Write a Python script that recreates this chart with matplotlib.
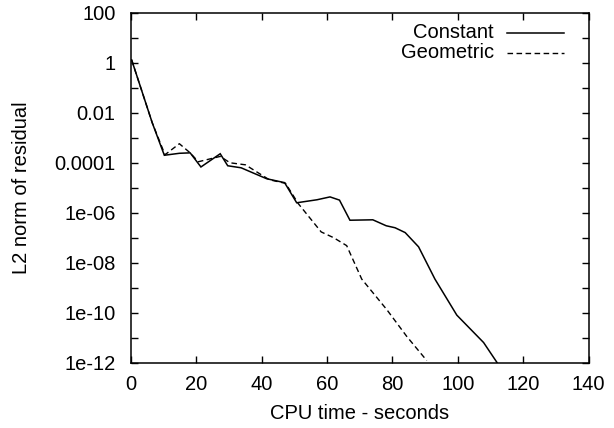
import matplotlib
matplotlib.use("Agg")
import matplotlib.pyplot as plt
from matplotlib.lines import Line2D

plt.rcParams['font.family'] = ['Liberation Sans', 'DejaVu Sans']

series_names = ["Constant", "Geometric"]

const_t = [0.2, 6.5, 10.2, 14.8, 18.1, 21.4, 27.3, 29.6, 33.7, 37.4, 41.5, 47.0,
           50.7, 56.9, 60.9, 63.8, 67.0, 74.0, 78.1, 80.8, 83.9, 88.0, 93.0,
           99.7, 107.9, 112.0]
const_r = [1.32, 4.0e-3, 2.0e-4, 2.4e-4, 2.5e-4, 6.8e-5, 2.3e-4, 7.6e-5, 6.3e-5,
           3.9e-5, 2.3e-5, 1.6e-5, 2.5e-6, 3.3e-6, 4.3e-6, 3.2e-6, 5.0e-7, 5.2e-7,
           3.0e-7, 2.5e-7, 1.6e-7, 4.3e-8, 2.2e-9, 7.9e-11, 6.3e-12, 1.0e-12]

geom_t = [0.2, 6.5, 10.4, 14.8, 18.1, 20.6, 27.3, 30.3, 35.0, 42.3, 47.3, 51.2,
          58.2, 62.0, 66.0, 70.6, 78.3, 84.4, 90.5]
geom_r = [1.32, 4.0e-3, 2.1e-4, 5.8e-4, 2.5e-4, 1.1e-4, 1.8e-4, 1.0e-4, 8.3e-5,
          2.1e-5, 1.5e-5, 2.3e-6, 1.7e-7, 1.0e-7, 4.8e-8, 2.2e-9, 1.3e-10,
          1.1e-11, 1.2e-12]

x_ticks = [0, 20, 40, 60, 80, 100, 120, 140]
y_ticks = [1e2, 1e1, 1e0, 1e-1, 1e-2, 1e-3, 1e-4, 1e-5, 1e-6, 1e-7, 1e-8, 1e-9,
           1e-10, 1e-11, 1e-12]
y_tick_labels = ["100", "", "1", "", "0.01", "", "0.0001", "", "1e-06", "",
                 "1e-08", "", "1e-10", "", "1e-12"]

fig = plt.figure(figsize=(6.14, 4.28), dpi=100)
ax = fig.add_axes([131/614, 1 - 362.5/428, (588.5-131)/614, (362.5-13)/428])

ax.plot(const_t, const_r, color='black', lw=1.1, solid_joinstyle='miter')
ax.plot(geom_t, geom_r, color='black', lw=1.0, linestyle=(0, (4, 2.5)))

ax.set_yscale('log')
ax.set_xlim(0, 140)
ax.set_ylim(1e-12, 1e2)
ax.set_xticks(x_ticks)
ax.set_xticklabels([str(v) for v in x_ticks])
ax.set_yticks(y_ticks)
ax.set_yticklabels(y_tick_labels)
ax.minorticks_off()
ax.tick_params(direction='in', length=5, width=1.0, top=True, right=True,
               labelsize=14.5)
ax.tick_params(axis='x', pad=9)
ax.tick_params(axis='y', pad=11)
for s in ax.spines.values():
    s.set_linewidth(1.1)

ax.set_xlabel("CPU time - seconds", fontsize=14.5, labelpad=7)
ax.set_ylabel("L2 norm of residual", fontsize=14.5, labelpad=17)

# gnuplot-style key: right-aligned text followed by line sample
styles = [dict(color='black', lw=1.1), dict(color='black', lw=1.0, linestyle=(0, (4, 2.5)))]
key_y = [0.943, 0.886]
for name, st, ky in zip(series_names, styles, key_y):
    ax.text(0.793, ky, name, transform=ax.transAxes, ha='right', va='center',
            fontsize=14.5)
    ax.add_line(Line2D([0.821, 0.946], [ky, ky], transform=ax.transAxes, **st))

fig.savefig("out.png", dpi=100)
